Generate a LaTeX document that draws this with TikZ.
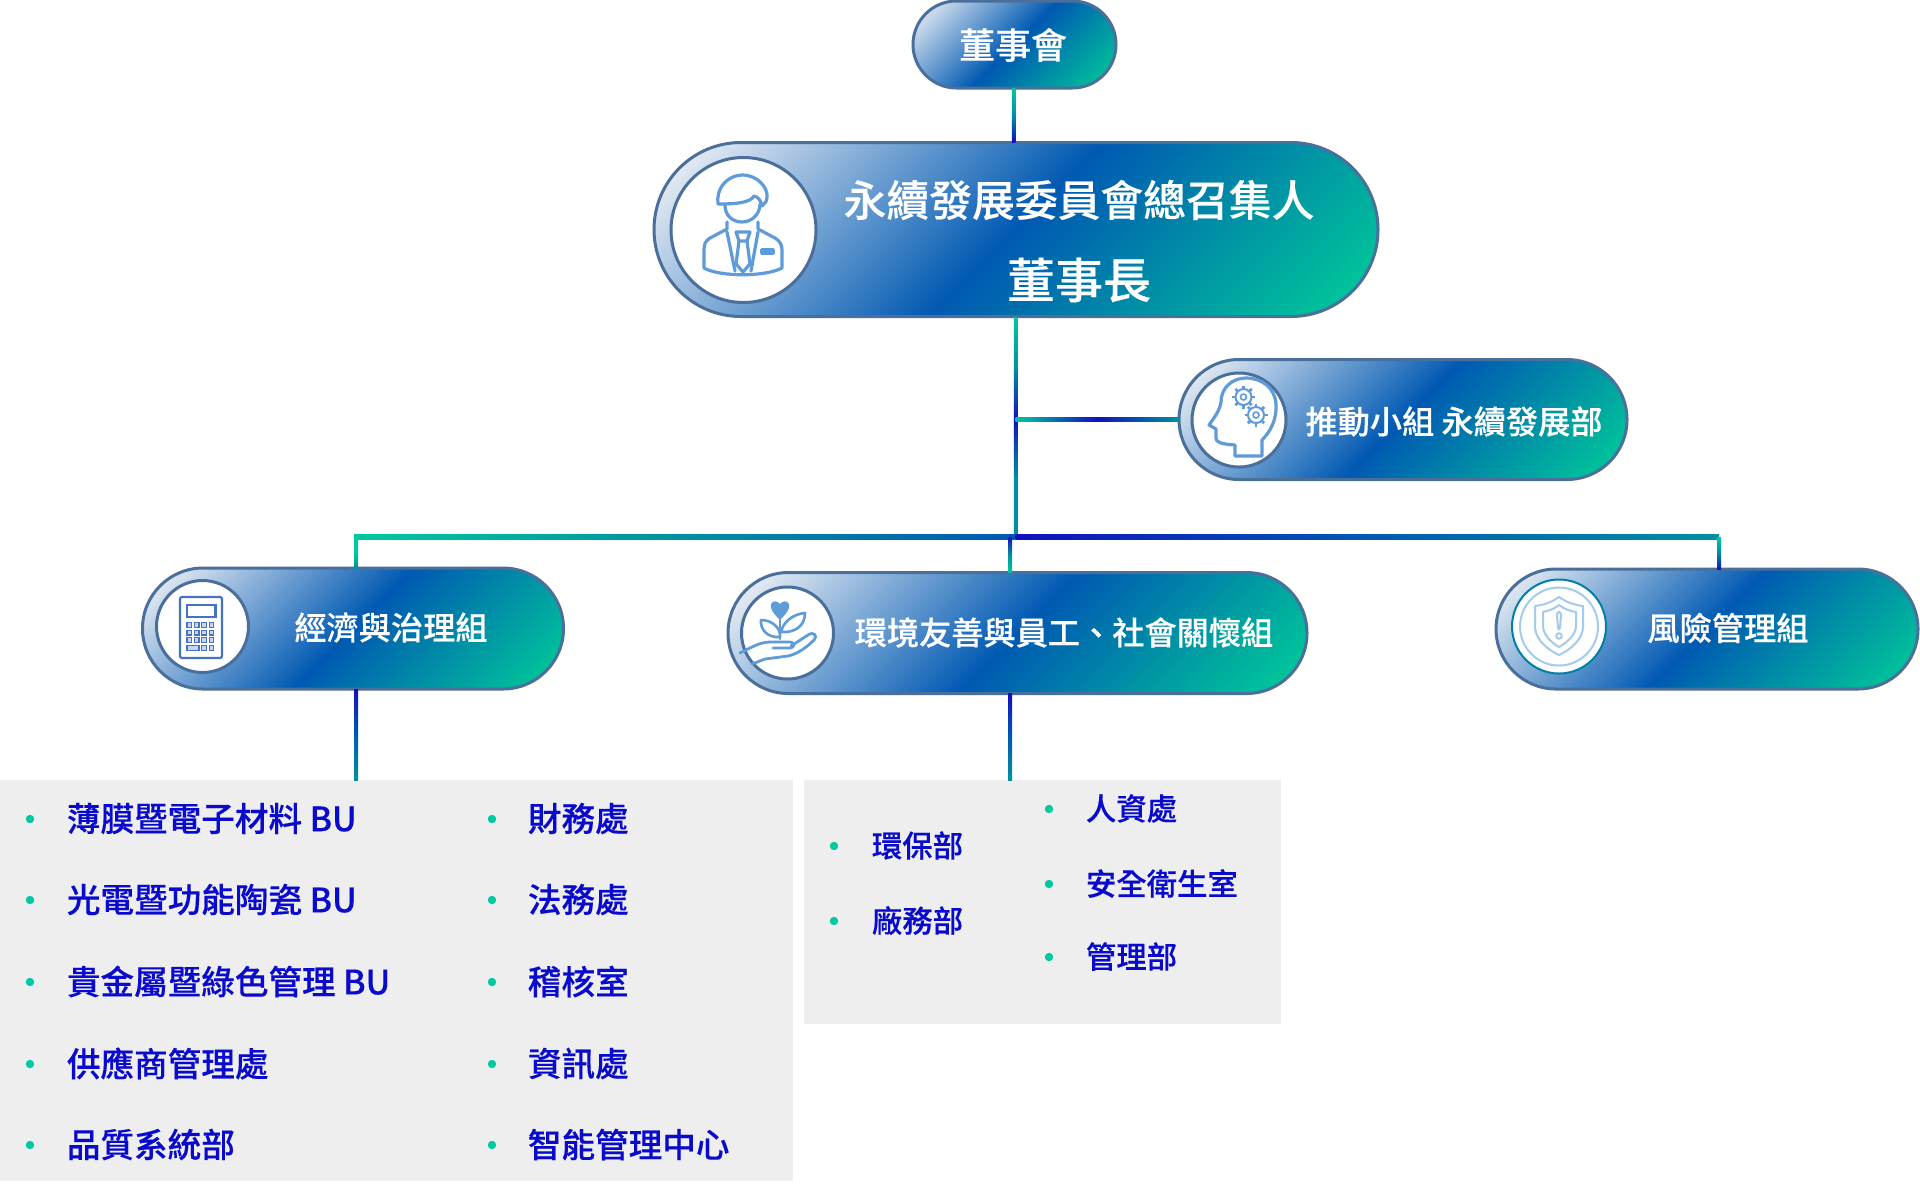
\documentclass[tikz,border=0pt]{standalone}
\usepackage{fontspec}
\usetikzlibrary{calc}
\newfontfamily\cjk{Noto Sans CJK TC Medium}[FakeBold=0.3]
\definecolor{pcA}{HTML}{E0E8F2}
\definecolor{pcB}{HTML}{0059B2}
\definecolor{pcC}{HTML}{00C39A}
\definecolor{pborder}{HTML}{4A6F9B}
\definecolor{icon}{HTML}{5E9BD8}
\definecolor{calc}{HTML}{4472C4}
\definecolor{ring}{HTML}{A4CAEC}
\definecolor{panel}{HTML}{EEEEEF}
\definecolor{itemblue}{HTML}{0A0ACD}
\definecolor{bul}{HTML}{00C8A0}
\definecolor{lgreen}{HTML}{00C8A0}
\definecolor{lteal}{HTML}{0090A0}
\definecolor{lblue}{HTML}{1010C0}
\pgfdeclarehorizontalshading{pillgrad}{100bp}{color(0bp)=(pcA); color(28bp)=(pcA); color(50bp)=(pcB); color(72bp)=(pcC); color(100bp)=(pcC)}
\newcommand\gradpill[5]{%
  \pgfmathsetmacro\PL{(#4+#5)/2/sqrt(2)}%
  \pgfmathsetmacro\PR{#5*0.25}%
  \begin{scope}
    \clip[rounded corners=\PR pt] ({#2-#4/2},{#3-#5/2}) rectangle ({#2+#4/2},{#3+#5/2});
    \shade[shading=pillgrad, transform canvas={rotate around={-45:(#2,#3)}}] ({#2-\PL},{#3-#4}) rectangle ({#2+\PL},{#3+#4});
  \end{scope}
  \node[pillborder, rounded corners=\PR pt, minimum width=#4*0.5pt, minimum height=#5*0.5pt] (#1) at (#2,#3) {};
}
% vertical connector: from, to, width(px), top, mid, bottom
\newcommand\vconn[6]{%
  \draw[line width=#3*0.5pt, color=#5] (#1) -- (#2);
  \shade[top color=#4, bottom color=#6, middle color=#5] ($(#1)+(-#3/2,0)$) rectangle ($(#2)+(#3/2,0)$);
}
\newcommand\hconn[6]{%
  \draw[line width=#3*0.5pt, color=#5] (#1) -- (#2);
  \shade[left color=#4, right color=#6, middle color=#5] ($(#1)+(0,-#3/2)$) rectangle ($(#2)+(0,#3/2)$);
}
\tikzset{
  pillborder/.style={draw=pborder, line width=1.5pt, rectangle, inner sep=0pt, outer sep=0pt},
  disc/.style={draw=pborder, line width=1.5pt, fill=white, circle, inner sep=0pt, outer sep=0pt},
  wtext/.style={text=white, inner sep=0pt, font=\cjk\fontsize{16.1pt}{16.1pt}\selectfont},
  itemA/.style={text=itemblue, anchor=west, inner sep=0pt, font=\cjk\fontsize{16.8pt}{16.8pt}\selectfont},
  itemB/.style={text=itemblue, anchor=west, inner sep=0pt, font=\cjk\fontsize{15.2pt}{15.2pt}\selectfont},
  panelbox/.style={fill=panel, rectangle, anchor=north west, inner sep=0pt, outer sep=0pt},
  ico/.style={draw=icon, line width=1.6pt, line join=round, line cap=round},
  calcico/.style={draw=calc, line width=1.1pt, rounded corners=1pt},
  ringico/.style={draw=ring, line width=1pt, line join=round, line cap=round},
}
\begin{document}
\begin{tikzpicture}[x=0.5pt,y=-0.5pt]
\useasboundingbox (0,0) rectangle (1920,1185);
\fill[white] (0,0) rectangle (1920,1185);

% panels
\node[panelbox, minimum width=396.5pt, minimum height=200.5pt] (listA) at (0,780) {};
\node[panelbox, minimum width=238.5pt, minimum height=122pt] (listB) at (804,780) {};

% pills
\gradpill{board}{1014.5}{44.5}{203}{87}
\gradpill{chair}{1016}{229.5}{724}{174}
\gradpill{promo}{1403}{419.5}{448}{120}
\gradpill{econ}{353}{628.5}{421}{121}
\gradpill{env}{1017.5}{633}{579}{121}
\gradpill{risk}{1707}{629}{422}{120}

% junction points
\coordinate (trunkTop) at (1015.5,317);
\coordinate (junc) at (1015.5,419.5);
\coordinate (busC) at (1015.5,537);
\coordinate (busL) at (354,537);
\coordinate (busR) at (1719,537);
\coordinate (busE) at (1010,537);
\coordinate (econDown) at (356,537);

% connectors
\vconn{1013.5,88}{1013.5,142}{3.5}{lgreen}{lteal}{lblue}
\vconn{trunkTop}{junc}{3.5}{lgreen}{lteal}{lblue}
\vconn{junc}{busC}{3.5}{lblue}{lteal}{lteal}
\hconn{junc}{promo.west}{4}{lgreen}{lblue}{lteal}
\hconn{busL}{busC}{4.5}{lgreen}{lteal}{pcB}
\hconn{busC}{busR}{4.5}{lblue}{pcB}{lteal}
\vconn{econDown}{econDown |- econ.north}{4}{lgreen}{lgreen}{lteal}
\vconn{busE}{busE |- env.north}{4}{lblue}{lteal}{lgreen}
\vconn{busR}{busR |- risk.north}{4}{lgreen}{lteal}{lblue}
\vconn{econDown |- econ.south}{econDown |- listA.north}{4}{lblue}{pcB}{lteal}
\vconn{busE |- env.south}{busE |- listB.north}{4}{lblue}{pcB}{lteal}

% discs
\node[disc, minimum size=72.5pt] (chairdisc) at (743.5,230) {};
\node[disc, minimum size=47pt] (promodisc) at (1239,420) {};
\node[disc, minimum size=46pt] (econdisc) at (202.5,626.5) {};
\node[disc, minimum size=46pt] (envdisc) at (787.5,633) {};
\node[disc, draw=lteal!70!pcB, line width=1pt, minimum size=47pt] (riskdisc) at (1559,626.5) {};

% person icon
\draw[ico] (718,204) .. controls (716,190) and (725,176) .. (742,175) .. controls (758,175) and (768,188) .. (767,197) .. controls (767,202) and (764,204) .. (762,206) .. controls (761,200) and (758,197) .. (754,196) .. controls (750,203) and (735,204) .. (718,204) -- cycle;
\draw[ico] (725,205) .. controls (725,216) and (733,222) .. (742,222) .. controls (752,222) and (760,214) .. (760,204);
\draw[ico] (727,222) -- (727,229) -- (710,238) .. controls (705,241) and (704,245) .. (704,250) -- (704,268) .. controls (720,277) and (765,277) .. (782,268) -- (782,250) .. controls (782,245) and (780,241) .. (775,238) -- (758,229) -- (758,222);
\draw[ico] (736,232) -- (750,232) -- (747,241) -- (739,241) -- cycle;
\draw[ico] (739,241) -- (736,264) -- (743,272) -- (750,264) -- (747,241);
\draw[ico] (727,232) -- (735,271);
\draw[ico] (758,232) -- (751,271);
\draw[ico] (762,250) rectangle (773,253);

% head with gears icon
\draw[ico] (1235,456) -- (1262,456) -- (1262,440) .. controls (1270,432) and (1277,420) .. (1276,404) .. controls (1275,388) and (1262,378) .. (1246,378) .. controls (1232,378) and (1221,388) .. (1221,402) .. controls (1220,410) and (1214,418) .. (1209,425) -- (1216,429) -- (1216,438) .. controls (1216,442) and (1220,444) .. (1235,445) -- cycle;
\foreach \gx/\gy in {1243.5/397, 1256/415}{
  \draw[ico, line width=1pt] (\gx,\gy) circle[radius=8];
  \draw[ico, line width=0.8pt] (\gx,\gy) circle[radius=3];
  \foreach \ga in {0,45,...,315}{
    \draw[ico, line width=1.4pt, line cap=butt] ($(\gx,\gy)+(\ga:8)$) -- ($(\gx,\gy)+(\ga:11.5)$);
  }
}

% calculator icon
\draw[calcico] (180,597) rectangle (222,658);
\draw[calcico, rounded corners=0pt] (187,605) rectangle (215.5,617);
\foreach \r in {0,1,2,3}{
  \foreach \c in {0,1,2,3}{
    \ifnum\r=3 \ifnum\c<2 \else
      \draw[calc, line width=0.6pt, fill=calc!30] ({187+\c*7.4},{622.5+\r*7.6}) rectangle ++(4.6,4.8);
    \fi \else
      \draw[calc, line width=0.6pt, fill=calc!30] ({187+\c*7.4},{622.5+\r*7.6}) rectangle ++(4.6,4.8);
    \fi
  }
}
\draw[calc, line width=0.6pt, fill=calc!30] (187,645.3) rectangle (199,650.1);

% hand and plant icon
\fill[icon] (780,620) .. controls (772,612) and (770,608) .. (771,604) .. controls (773,600) and (778,601) .. (780,604) .. controls (782,601) and (787,600) .. (789,604) .. controls (790,608) and (788,612) .. (780,620) -- cycle;
\draw[ico, line width=1.3pt] (780,620) -- (780,639);
\draw[ico, line width=1.3pt] (780,637) .. controls (768,638) and (760,630) .. (761,620) .. controls (772,620) and (781,628) .. (780,637) -- cycle;
\draw[ico, line width=1.3pt] (781,632) .. controls (783,622) and (793,614) .. (805,613) .. controls (805,625) and (796,633) .. (781,632) -- cycle;
\draw[ico, line width=1.4pt] (740,653) .. controls (750,648) and (760,642) .. (770,642) -- (790,642) .. controls (795,642) and (795,648) .. (790,648) -- (773,648);
\draw[ico, line width=1.4pt] (791,646) -- (808,635) .. controls (814,631) and (818,636) .. (814,640) .. controls (806,648) and (797,654) .. (788,656) -- (765,659) -- (752,664);

% shield icon
\draw[ringico] (riskdisc.center) circle[radius=39];
\draw[ringico] (1559,597) .. controls (1552,602) and (1544,605) .. (1535,606) -- (1535,628) .. controls (1536,640) and (1548,650) .. (1559,655) .. controls (1570,650) and (1582,640) .. (1583,628) -- (1583,606) .. controls (1574,605) and (1566,602) .. (1559,597) -- cycle;
\draw[ringico] (1559,605) .. controls (1554,609) and (1548,611) .. (1543,612) -- (1543,627) .. controls (1544,636) and (1552,643) .. (1559,647) .. controls (1566,643) and (1575,636) .. (1576,627) -- (1576,612) .. controls (1570,611) and (1564,609) .. (1559,605) -- cycle;
\draw[ringico] (1557,615) .. controls (1557,611) and (1561,611) .. (1561,615) -- (1560,628) .. controls (1560,630) and (1558,630) .. (1558,628) -- cycle;
\draw[ringico] (1559,636) circle[radius=2.8];

% pill texts
\node[wtext, font=\cjk\fontsize{18pt}{18pt}\selectfont] (tboard) at (1013,45) {董事會};
\node[wtext, font=\cjk\fontsize{21.4pt}{21.4pt}\selectfont] (tchairA) at (1079,200) {永續發展委員會總召集人};
\node[wtext, font=\cjk\fontsize{24pt}{24pt}\selectfont] (tchairB) at (1079,280) {董事長};
\node[wtext] (tpromo) at (1454,421.5) {推動小組 永續發展部};
\node[wtext] (tecon) at (391,627.5) {經濟與治理組};
\node[wtext] (tenv) at (1064,632.5) {環境友善與員工、社會關懷組};
\node[wtext] (trisk) at (1728,628) {風險管理組};

% left list
\foreach \ty/\ta/\tb [count=\i] in {818.5/薄膜暨電子材料 BU/財務處, 899.5/光電暨功能陶瓷 BU/法務處, 981.5/貴金屬暨綠色管理 BU/稽核室, 1063.5/供應商管理處/資訊處, 1144.5/品質系統部/智能管理中心}{
  \fill[bul] (30,\ty+0.5) circle[radius=4.2];
  \fill[bul] (492,\ty+0.5) circle[radius=4.2];
  \node[itemA] (la\i) at (66.5,\ty) {\ta};
  \node[itemA] (lb\i) at (527.5,\ty) {\tb};
}
% right list
\foreach \ty/\ta [count=\i] in {845.5/環保部, 920.5/廠務部}{
  \fill[bul] (834,\ty+0.5) circle[radius=4.2];
  \node[itemB] (ra\i) at (871.5,\ty) {\ta};
}
\foreach \ty/\ta [count=\i] in {808.5/人資處, 883.5/安全衛生室, 956.5/管理部}{
  \fill[bul] (1049,\ty+0.5) circle[radius=4.2];
  \node[itemB] (rb\i) at (1085.5,\ty) {\ta};
}
\end{tikzpicture}
\end{document}
